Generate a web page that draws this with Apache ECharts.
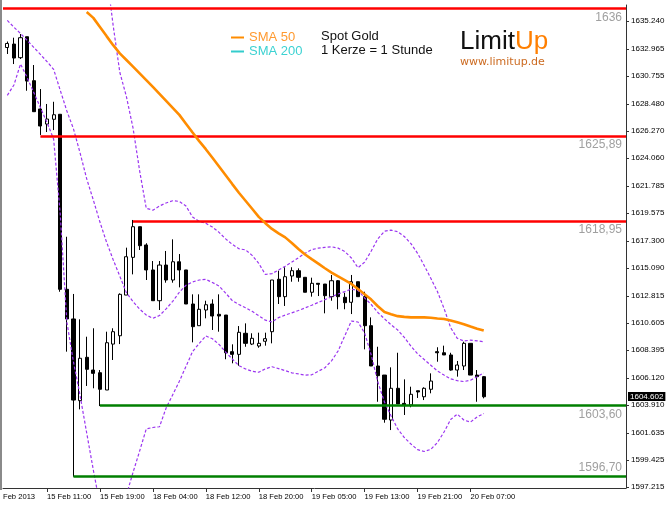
<!DOCTYPE html>
<html><head><meta charset="utf-8">
<script src="https://cdn.jsdelivr.net/npm/echarts@6/dist/echarts.min.js"></script>
<style>html,body{margin:0;padding:0;background:#fff}#c{width:670px;height:505px}</style>
</head><body><div id="c"></div>
<script>
// ---- data (hourly candles, bar index 0 = 15 Feb 05:00) ----
// [open, close, low, high]
const candles = [
 [1633.10,1633.43,1632.57,1633.59],[1633.38,1632.24,1631.75,1633.90],[1632.27,1633.90,1632.16,1634.20],
 [1633.98,1630.36,1629.57,1633.98],[1630.39,1627.86,1627.86,1631.67],[1628.08,1626.69,1625.96,1629.71],
 [1626.85,1627.26,1626.20,1628.49],[1627.24,1627.61,1626.36,1628.67],[1627.65,1613.36,1613.16,1627.65],
 [1613.36,1610.94,1608.27,1617.65],[1610.94,1604.32,1598.06,1612.98],[1604.27,1607.73,1603.56,1610.91],
 [1607.81,1606.83,1605.47,1609.49],[1606.77,1606.50,1605.28,1610.18],[1606.55,1605.20,1603.83,1606.77],
 [1605.14,1609.00,1605.14,1609.90],[1608.89,1609.90,1607.59,1610.18],[1609.57,1612.95,1608.89,1613.03],
 [1612.89,1616.02,1612.89,1616.76],[1615.97,1618.47,1614.58,1619.02],[1618.47,1616.92,1616.57,1618.47],
 [1616.98,1614.94,1614.12,1617.12],[1614.94,1612.43,1612.43,1615.67],[1612.43,1615.34,1611.67,1615.67],
 [1615.34,1614.12,1613.90,1616.49],[1614.12,1615.61,1613.90,1617.44],[1615.61,1614.94,1613.52,1616.24],
 [1614.94,1612.16,1612.16,1614.94],[1612.16,1610.31,1609.03,1612.95],[1610.39,1611.73,1610.39,1612.95],
 [1611.67,1612.10,1610.99,1612.43],[1612.16,1611.18,1610.04,1612.54],[1611.32,1611.18,1609.90,1612.95],
 [1611.26,1608.18,1607.65,1611.26],[1608.27,1608.05,1607.32,1608.87],[1608.05,1609.85,1607.12,1610.36],
 [1609.77,1608.95,1608.67,1610.58],[1608.89,1609.36,1608.81,1609.77],[1608.73,1608.95,1608.59,1609.82],
 [1609.12,1609.33,1608.76,1609.82],[1609.90,1614.12,1608.95,1614.12],[1614.18,1612.76,1612.16,1614.88],
 [1612.76,1614.39,1612.00,1615.16],[1614.45,1614.88,1613.98,1615.16],[1614.88,1614.34,1613.98,1615.07],
 [1614.34,1613.12,1613.12,1614.34],[1613.12,1613.85,1612.76,1614.31],[1613.85,1613.77,1612.81,1613.85],
 [1613.79,1612.84,1611.40,1613.79],[1612.76,1614.06,1612.43,1614.53],[1614.06,1612.76,1611.73,1614.12],
 [1612.71,1612.27,1611.73,1613.08],[1612.30,1613.98,1611.34,1614.53],[1613.98,1612.76,1612.76,1613.98],
 [1612.76,1610.39,1608.46,1613.16],[1610.39,1607.10,1607.10,1611.07],[1607.10,1606.31,1604.18,1608.67],
 [1606.36,1602.75,1602.47,1606.36],[1602.69,1605.28,1601.87,1606.99],[1605.28,1604.00,1604.00,1608.18],
 [1604.05,1603.89,1603.10,1606.01],[1603.92,1604.79,1603.73,1605.41],[1605.08,1604.98,1604.49,1605.08],
 [1604.59,1605.28,1604.32,1605.36],[1605.20,1605.87,1604.87,1606.50],[1608.27,1608.18,1607.45,1608.63],
 [1608.18,1608.00,1608.00,1608.76],[1608.00,1606.77,1606.72,1608.18],[1606.77,1607.18,1606.23,1607.51],
 [1607.10,1608.95,1606.77,1609.08],[1608.95,1606.36,1606.36,1608.95],[1606.36,1606.23,1604.18,1606.77],
 [1606.23,1604.59,1604.46,1606.28]
];
const sma50 = [null,null,null,null,null,null,null,null,null,null,null,null,
 1636.00,1635.52,1634.78,1634.03,1633.29,1632.62,1632.08,1631.54,1630.99,1630.44,1629.88,1629.31,1628.74,
 1628.17,1627.60,1626.88,1626.16,1625.46,1624.80,1624.10,1623.39,1622.67,1621.95,1621.24,1620.59,1619.94,
 1619.27,1618.76,1618.29,1617.93,1617.60,1617.14,1616.65,1616.20,1615.82,1615.46,1615.08,1614.72,1614.41,
 1614.11,1613.80,1613.38,1612.96,1612.52,1611.98,1611.50,1611.33,1611.17,1611.11,1611.07,1611.07,1611.07,
 1611.04,1610.98,1610.93,1610.82,1610.67,1610.51,1610.32,1610.14,1609.99];
const sma200 = [];
const bbMiddle = [1635.31,1634.76,1634.24,1633.68,1633.11,1632.54,1631.95,1631.32,1629.61,1627.92,1626.46,
 1624.49,1622.38,1620.65,1618.85,1617.21,1615.78,1614.43,1613.09,1612.35,1611.74,1611.26,1610.99,1611.22,
 1611.76,1612.38,1613.12,1613.69,1613.96,1614.12,1614.17,1613.92,1613.62,1613.05,1612.44,1612.12,1611.85,
 1611.56,1611.20,1610.84,1610.69,1611.05,1611.26,1611.44,1611.63,1611.84,1612.06,1612.29,1612.52,1612.75,
 1612.98,1613.17,1613.38,1613.26,1612.65,1612.12,1611.47,1610.95,1610.46,1610.04,1609.43,1608.72,1608.10,
 1607.63,1607.16,1606.69,1606.36,1606.05,1605.90,1605.83,1605.94,1606.22,1606.53];
const bbUpper = [null,null,null,null,null,null,null,null,null,null,null,null,null,null,null,
 1639.18,1634.89,1631.08,1629.09,1626.53,1623.03,1619.97,1619.82,1620.16,1620.41,1620.59,1620.54,1620.16,
 1619.26,1618.91,1618.75,1618.44,1618.01,1617.48,1617.03,1616.67,1616.58,1616.13,1615.48,1614.57,1614.64,
 1614.94,1615.25,1615.58,1615.94,1616.30,1616.60,1616.72,1616.79,1616.83,1616.72,1616.45,1615.92,1615.12,
 1615.58,1616.49,1617.49,1618.10,1618.19,1618.06,1617.67,1617.09,1616.30,1615.31,1614.26,1613.18,1611.80,
 1610.23,1609.36,1609.14,1609.21,1609.15,1609.08];
const bbLower = [1629.19,1630.04,1631.75,1630.65,1629.43,1628.20,1626.98,1625.63,1619.51,1610.69,1607.43,
 1604.69,1601.63,1598.61,1595.75,1594.53,1594.36,1594.94,1596.57,1598.41,1600.16,1601.96,1602.08,1602.14,
 1603.67,1604.76,1605.85,1607.06,1608.28,1608.94,1609.55,1609.32,1608.86,1608.23,1607.67,1607.13,1606.86,
 1606.67,1606.59,1606.87,1607.04,1606.89,1606.72,1606.54,1606.45,1606.36,1606.38,1606.67,1606.96,1607.52,
 1608.34,1609.56,1610.77,1610.69,1609.79,1608.00,1605.79,1604.16,1603.02,1601.96,1601.26,1600.73,1600.27,
 1600.12,1600.29,1600.85,1601.71,1602.73,1603.17,1602.69,1602.52,1602.94,1603.22];
const priceTicks = [1597.215,1599.425,1601.635,1603.910,1606.120,1608.395,1610.605,1612.815,1615.090,
 1617.300,1619.575,1621.785,1624.060,1626.270,1628.480,1630.755,1632.965,1635.240];
const timeLabels = ['15 Feb 11:00','15 Feb 19:00','18 Feb 04:00','18 Feb 12:00','18 Feb 20:00',
 '19 Feb 05:00','19 Feb 13:00','19 Feb 21:00','20 Feb 07:00'];
const timeLabelBars = [6,14,22,30,38,46,54,62,70];
const firstLabel = 'Feb 2013';
const levelValues = [1636.30,1625.89,1618.95,1603.86,1598.06];
const levelTexts = ['1636','1625,89','1618,95','1603,60','1596,70'];
const levelStartBars = [null,5,19,14,10];
const levelColors = ['#ff0000','#ff0000','#ff0000','#007f00','#007f00'];
const levelLabelAbove = [false,false,false,false,true];
const lastPrice = 1604.602;

// ---- view extents ----
const X_MIN = -0.65, X_MAX = 93.5;
const Y_MIN = 1597.14, Y_MAX = 1636.57;
const FONT = "'Liberation Sans', Arial, sans-serif";

const toXY = arr => arr.map((v,i)=> v==null ? null : [i,v]).filter(p=>p);

const levelLines = levelValues.map((v,k)=>[
  {coord:[levelStartBars[k]==null ? X_MIN : levelStartBars[k], v],
   lineStyle:{color:levelColors[k], width:2.6, type:'solid'},
   label:{show:true, formatter:levelTexts[k], position: levelLabelAbove[k] ? 'insideEndTop' : 'insideEndBottom',
          color:'#a0a0a0', fontSize:12, fontFamily:FONT, distance:[4,3]}},
  {coord:[X_MAX, v]}
]);

const bandStyle = {color:'#9b35f0', width:1.2, type:[3,2]};

const chart = echarts.init(document.getElementById('c'), null, {renderer:'canvas'});
chart.setOption({
  animation:false,
  backgroundColor:'#fff',
  grid:{left:3, right:44, top:5, bottom:17},
  title:{text:'Spot Gold', subtext:'1 Kerze = 1 Stunde', left:321, top:30, itemGap:1, padding:0,
    textStyle:{fontSize:13, fontWeight:'normal', color:'#111', fontFamily:FONT},
    subtextStyle:{fontSize:13, color:'#111', fontFamily:FONT}},
  legend:{orient:'vertical', left:231, top:31, itemWidth:13, itemHeight:2, itemGap:1, padding:0,
    icon:'rect', selectedMode:false,
    data:[{name:'SMA 50', textStyle:{color:'#ff9a30'}},{name:'SMA 200', textStyle:{color:'#3cd2d2'}}],
    textStyle:{fontSize:13, fontFamily:FONT}},
  xAxis:{type:'value', min:X_MIN, max:X_MAX, splitLine:{show:false},
    axisLine:{show:true, onZero:false, lineStyle:{color:'#333', width:1}},
    axisTick:{show:true, customValues:timeLabelBars, length:4, lineStyle:{color:'#333'}},
    axisLabel:{customValues:[X_MIN].concat(timeLabelBars), align:'left', margin:5,
      fontSize:7.6, color:'#000', fontFamily:FONT,
      formatter:v=> v===X_MIN ? firstLabel : timeLabels[timeLabelBars.indexOf(v)]}},
  yAxis:{type:'value', position:'right', min:Y_MIN, max:Y_MAX, splitLine:{show:false},
    axisLine:{show:true, onZero:false, lineStyle:{color:'#333', width:1}},
    axisTick:{show:true, customValues:priceTicks, length:3, lineStyle:{color:'#333'}},
    axisLabel:{customValues:priceTicks, margin:5, fontSize:8, color:'#000', fontFamily:FONT,
      formatter:v=>v.toFixed(3)}},
  series:[
    {type:'candlestick', name:'Spot Gold', data:candles.map((c,i)=>[i].concat(c)),
     encode:{x:0, y:[1,2,3,4]}, barWidth:3.6, silent:true, z:3,
     itemStyle:{color:'#fff', color0:'#000', borderColor:'#000', borderColor0:'#000', borderColorDoji:'#000', borderWidth:1},
     markLine:{silent:true, symbol:['none','none'], animation:false,
       data: levelLines.concat([{yAxis:lastPrice, lineStyle:{color:'rgba(0,0,0,0)', width:0},
         label:{show:true, position:'end', distance:2, formatter:lastPrice.toFixed(3), color:'#fff',
           backgroundColor:'#000', padding:[1,2,0,2], fontSize:8, fontFamily:FONT}}])}},
    {type:'line', name:'BB upper', data:toXY(bbUpper), showSymbol:false, silent:true, z:4, lineStyle:bandStyle},
    {type:'line', name:'BB middle', data:toXY(bbMiddle), showSymbol:false, silent:true, z:4, lineStyle:bandStyle},
    {type:'line', name:'BB lower', data:toXY(bbLower), showSymbol:false, silent:true, z:4, lineStyle:bandStyle},
    {type:'line', name:'SMA 50', data:toXY(sma50), showSymbol:false, silent:true, z:5,
     color:'#ff8c00', lineStyle:{color:'#ff8c00', width:2.6}},
    {type:'line', name:'SMA 200', data:sma200, showSymbol:false, silent:true, color:'#33cccc',
     lineStyle:{color:'#33cccc', width:2.6}}
  ],
  graphic:[
    {type:'rect', left:0, top:0, shape:{width:2, height:490}, style:{fill:'#8a8a8a'}, silent:true},
    {type:'text', left:460, top:29, silent:true,
     style:{text:'{a|Limit}{b|Up}', rich:{a:{fontSize:26, fill:'#111', fontFamily:FONT},
       b:{fontSize:26, fill:'#ff7f00', fontFamily:FONT}}}},
    {type:'text', left:460, top:57, silent:true,
     style:{text:'www.limitup.de', fontSize:11, fill:'#cc6a20', fontFamily:"'DejaVu Sans', sans-serif"}}
  ]
});
</script></body></html>
